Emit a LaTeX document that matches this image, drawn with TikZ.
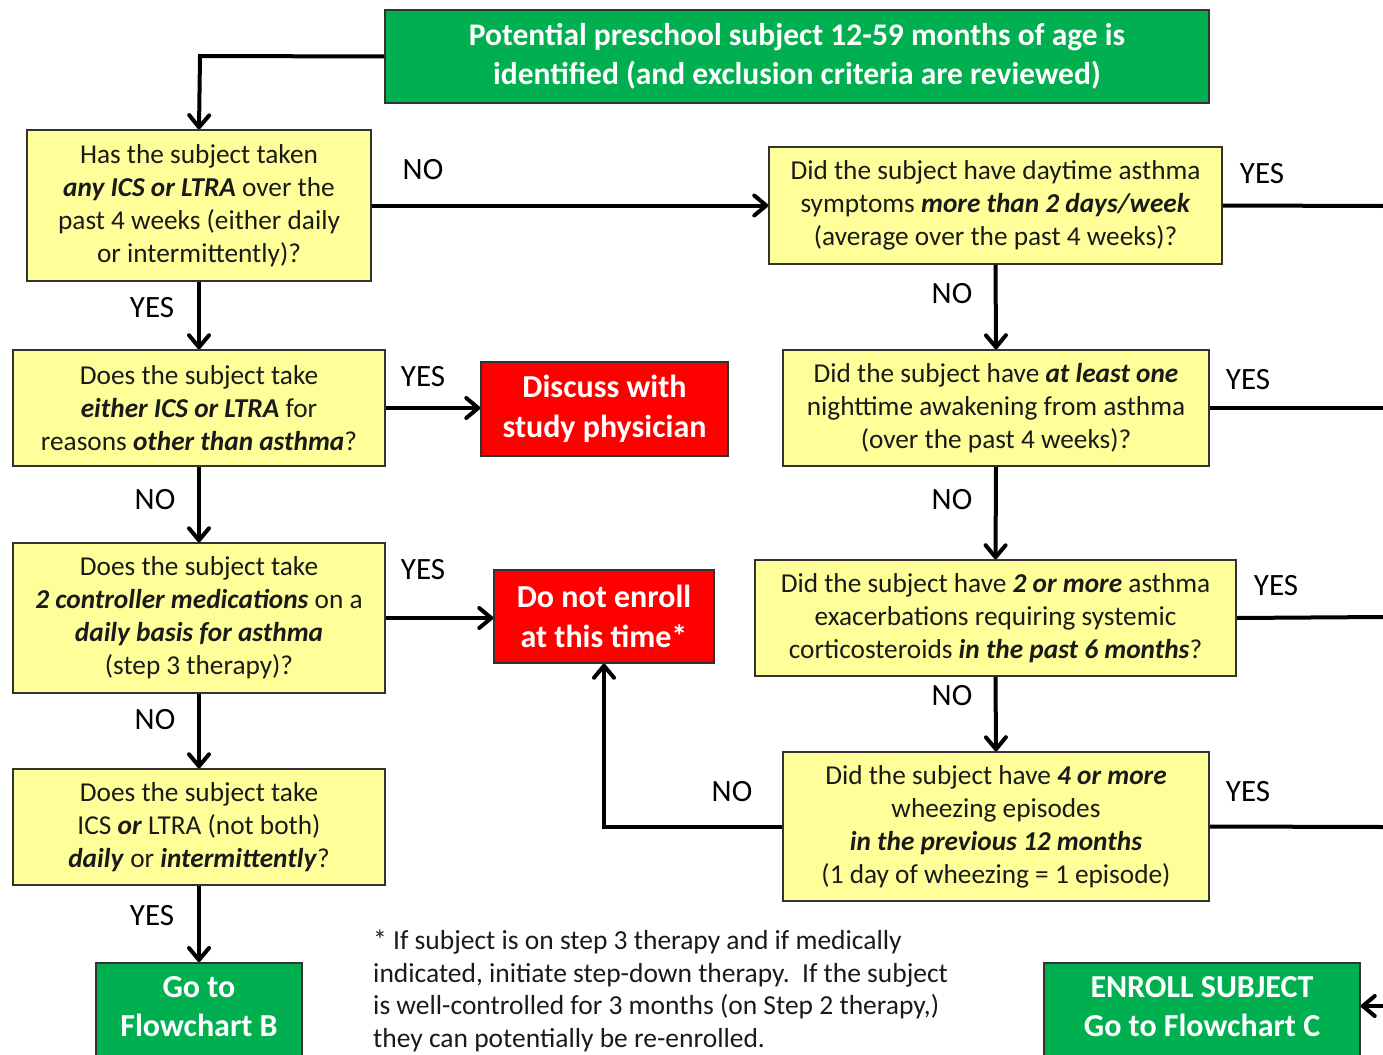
\documentclass[tikz,border=0pt]{standalone}
\usepackage{fontspec}
\setmainfont{Carlito}
\usetikzlibrary{arrows.meta}
\definecolor{boxyellow}{HTML}{FFFF99}
\definecolor{boxgreen}{HTML}{00B050}
\definecolor{boxred}{HTML}{FF0000}
\definecolor{txtdark}{HTML}{1A1A1A}
\newcommand{\hl}[1]{\textbf{\textit{#1}}}
\tikzset{
  qbox/.style={draw=black!80, fill=boxyellow, line width=1.5pt, align=center,
    inner sep=0pt, text=txtdark, font=\fontsize{27.3}{33}\selectfont},
  gbox/.style={draw=black!80, fill=boxgreen, line width=1.5pt, align=center,
    inner sep=0pt, text=white, font=\fontsize{31.5}{39}\selectfont\bfseries},
  gtxt/.style={align=center, inner sep=0pt, text=white, font=\fontsize{32}{39}\selectfont\bfseries},
  rbox/.style={draw=black!80, fill=boxred, line width=1.5pt, align=center,
    inner sep=0pt, text=white, font=\fontsize{32}{40}\selectfont\bfseries},
  lbl/.style={inner sep=0pt, font=\fontsize{31}{32}\selectfont},
  conn/.style={line width=4pt, -{Straight Barb[length=12pt,width=20pt,round]}},
  plain/.style={line width=4pt},
}
\begin{document}
\begin{tikzpicture}[x=1pt,y=-1pt]
\useasboundingbox (0,0) rectangle (1383,1054);
% boxes
\node[gbox, minimum width=824, minimum height=93] (title) at (797,56.5)
  {Potential preschool subject 12-59 months of age is\\identified (and exclusion criteria are reviewed)};
\node[qbox, minimum width=344, minimum height=151] (A) at (199,205.5)
  {Has the subject taken\\\hl{any ICS or LTRA} over the\\past 4 weeks (either daily\\or intermittently)?};
\node[qbox, minimum width=372, minimum height=116] (B) at (199,408)
  {Does the subject take\\\hl{either ICS or LTRA} for\\reasons \hl{other than asthma}?};
\node[rbox, minimum width=247, minimum height=94] (disc) at (604.5,409)
  {Discuss with\\study physician};
\node[qbox, minimum width=372, minimum height=150] (C) at (199,618)
  {Does the subject take\\\hl{2 controller medications} on a\\\hl{daily basis for asthma}\\(step 3 therapy)?};
\node[rbox, minimum width=220, minimum height=93] (dne) at (604,616.5)
  {Do not enroll\\at this time*};
\node[qbox, minimum width=372, minimum height=116] (D) at (199,827)
  {Does the subject take\\ICS \hl{or} LTRA (not both)\\\hl{daily} or \hl{intermittently}?};
\node[gbox, minimum width=206, minimum height=98, anchor=north] (goB) at (199,962) {};
\node[gtxt] (goBtxt) at (199,1006.5) {Go to\\Flowchart B};
\node[qbox, minimum width=453, minimum height=117] (E) at (995.5,205.5)
  {Did the subject have daytime asthma\\symptoms \hl{more than 2 days/week}\\(average over the past 4 weeks)?};
\node[qbox, minimum width=426, minimum height=116] (F) at (996,408)
  {Did the subject have \hl{at least one}\\nighttime awakening from asthma\\(over the past 4 weeks)?};
\node[qbox, minimum width=481, minimum height=116] (G) at (995.5,618)
  {Did the subject have \hl{2 or more} asthma\\exacerbations requiring systemic\\corticosteroids \hl{in the past 6 months}?};
\node[qbox, minimum width=426, minimum height=149] (H) at (996,826.5)
  {Did the subject have \hl{4 or more}\\wheezing episodes\\\hl{in the previous 12 months}\\(1 day of wheezing = 1 episode)};
\node[gbox, minimum width=316, minimum height=98, anchor=north] (enr) at (1202,962) {};
\node[gtxt] (enrtxt) at (1202,1006.5) {ENROLL SUBJECT\\Go to Flowchart C};
% footnote
\node[anchor=north west, align=left, inner sep=0pt, text=txtdark,
  font=\fontsize{27.5}{32.5}\selectfont] (foot) at (373,930)
  {* If subject is on step 3 therapy and if medically\\
   indicated, initiate step-down therapy.\ \ If the subject\\
   is well-controlled for 3 months (on Step 2 therapy,)\\
   they can potentially be re-enrolled.};
% coordinates for free ends
\coordinate (tl) at (200,56);
\coordinate (hl) at (604,826.5);
\coordinate (eE) at (1383,206);
\coordinate (eF) at (1383,408);
\coordinate (eG) at (1383,617);
\coordinate (eH) at (1383,827);
\coordinate (eIn) at (1383,1006);
% connectors
\draw[conn] (title.west) -- (tl) -- (A.north);
\draw[conn] (A.east) -- (E.west);
\draw[conn] (A.south) -- (B.north);
\draw[conn] (B.east) -- (disc.west |- B.east);
\draw[conn] (B.south) -- (C.north);
\draw[conn] (C.east) -- (dne.west |- C.east);
\draw[conn] (C.south) -- (D.north);
\draw[conn] (D.south) -- (goB.north);
\draw[conn] (E.south) -- (F.north);
\draw[conn] (F.south) -- (G.north);
\draw[conn] (G.south) -- (H.north);
\draw[conn] (H.west) -- (hl) -- (dne.south);
\draw[plain] (E.east) -- (eE);
\draw[plain] (F.east) -- (eF);
\draw[plain] (G.east) -- (eG);
\draw[plain] (H.east) -- (eH);
\draw[conn] (eIn) -- (enr.east |- eIn);
% labels
\node[lbl] (l1) at (423,170) {NO};
\node[lbl] (l2) at (152,308) {YES};
\node[lbl] (l3) at (423,377) {YES};
\node[lbl] (l4) at (155,500) {NO};
\node[lbl] (l5) at (423,570) {YES};
\node[lbl] (l6) at (155,720) {NO};
\node[lbl] (l7) at (152,916) {YES};
\node[lbl] (l8) at (952,294) {NO};
\node[lbl] (l9) at (952,500) {NO};
\node[lbl] (l10) at (952,696) {NO};
\node[lbl] (l11) at (732,792) {NO};
\node[lbl] (l12) at (1262,174) {YES};
\node[lbl] (l13) at (1248,380) {YES};
\node[lbl] (l14) at (1276,586) {YES};
\node[lbl] (l15) at (1248,792) {YES};
\end{tikzpicture}
\end{document}
